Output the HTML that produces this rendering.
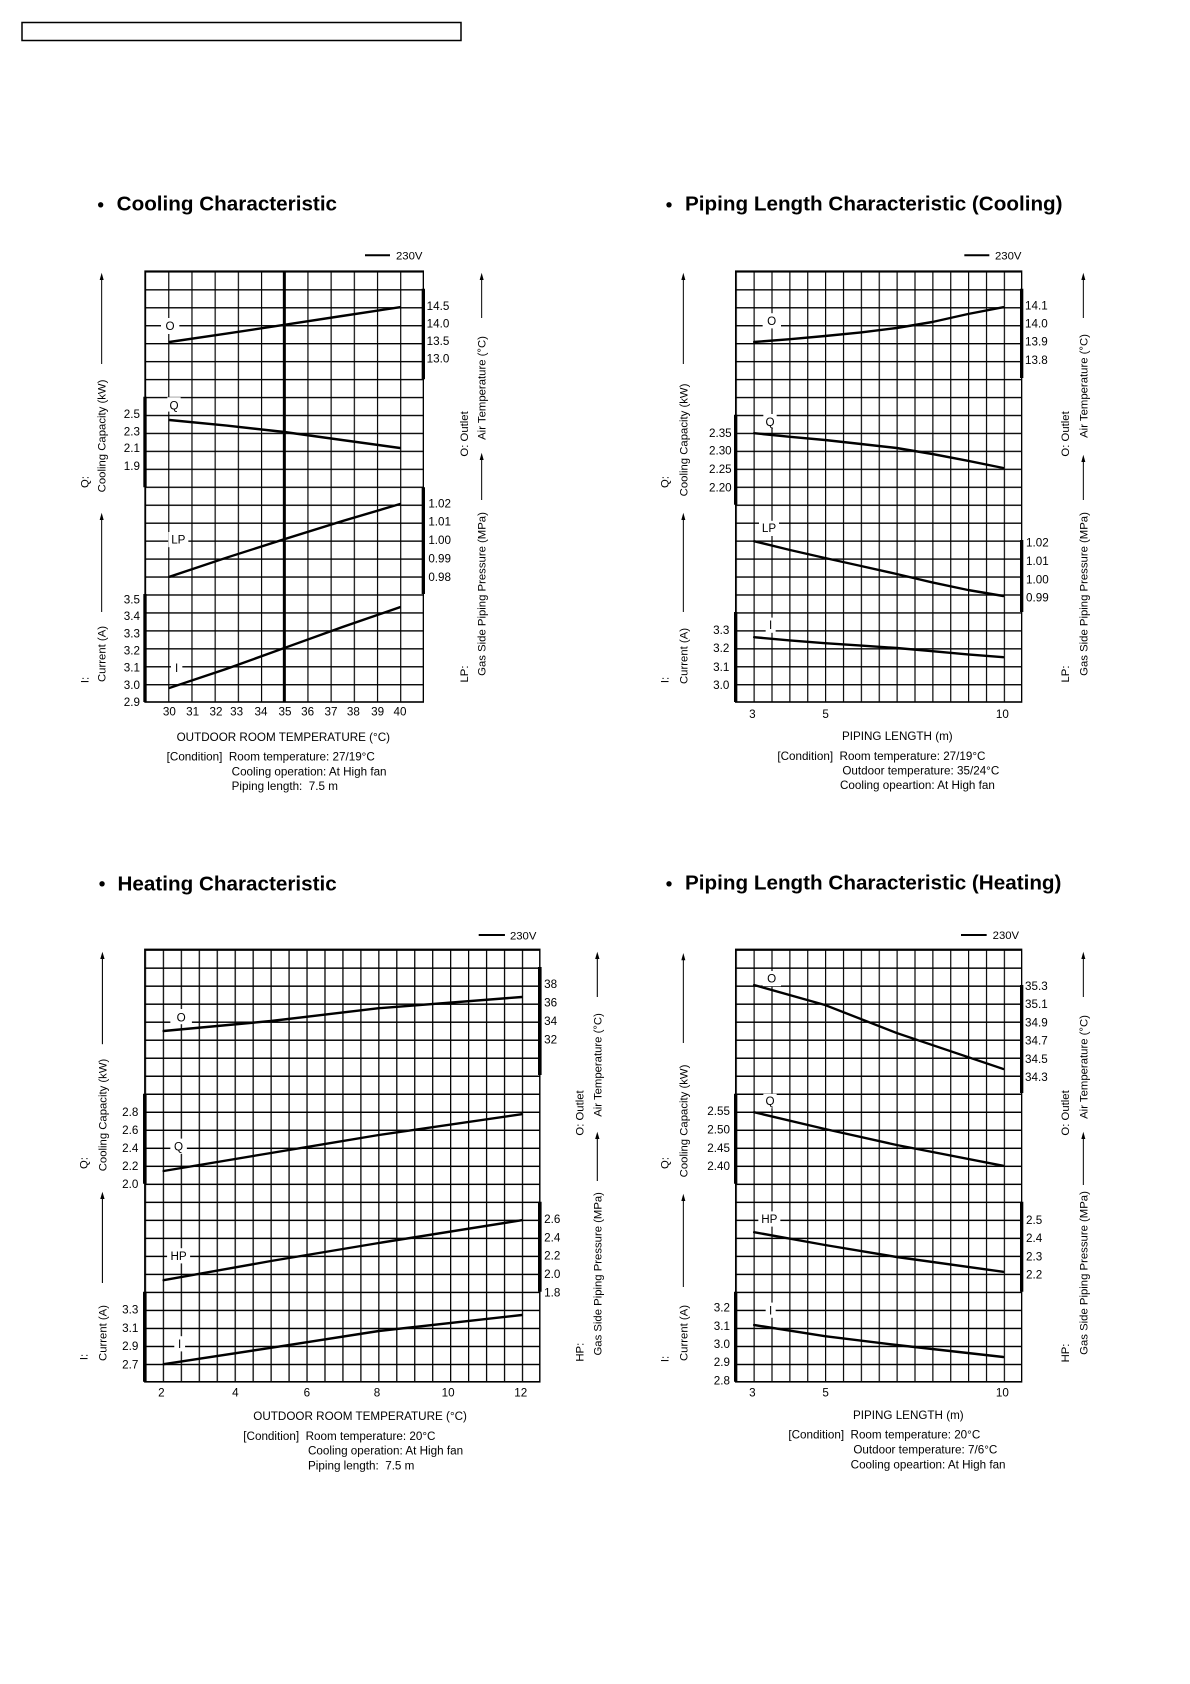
<!DOCTYPE html>
<html><head><meta charset="utf-8"><style>
html,body{margin:0;padding:0;background:#fff;}
svg{display:block;font-family:"Liberation Sans",sans-serif;}
.t{font-size:35px;fill:#000;}
.a{font-size:34px;fill:#000;}
.h{font-size:62px;font-weight:bold;fill:#000;}
.lb{font-size:35px;fill:#000;}
.c{fill:none;stroke:#000;stroke-width:6;stroke-linejoin:round;stroke-linecap:round;}
.b{stroke:#000;stroke-width:10;}
.ar{stroke:#000;stroke-width:3;}
.k1 text{transform-box:fill-box;transform-origin:center;transform:scaleY(0.8333);}
.k1 .rot text{transform:scaleX(0.8333);}
.k3 text{transform-box:fill-box;transform-origin:center;transform:scaleY(0.8985);}
.k3 .rot text{transform:scaleX(0.8985);}
.k3 .t,.k3 .lb{font-size:32.5px;}
.k3 .a{font-size:31.5px;}
.k3 .h{font-size:57.5px;}
</style></head><body>
<svg width="1190" height="1684" viewBox="0 0 1190 1684" xmlns="http://www.w3.org/2000/svg">
<defs>
<pattern id="p1" patternUnits="userSpaceOnUse" x="255" y="228" width="69.583" height="44.875"><path d="M0 0H69.583M0 0V44.875" stroke="#000" stroke-width="7" fill="none"/></pattern>
<pattern id="p2" patternUnits="userSpaceOnUse" x="287" y="228" width="53.625" height="44.875"><path d="M0 0H53.625M0 0V44.875" stroke="#000" stroke-width="7" fill="none"/></pattern>
<pattern id="p3" patternUnits="userSpaceOnUse" x="236" y="211" width="49.955" height="45.04"><path d="M0 0H49.955M0 0V45.04" stroke="#000" stroke-width="7" fill="none"/></pattern>
<pattern id="p4" patternUnits="userSpaceOnUse" x="287" y="211" width="53.625" height="45.04"><path d="M0 0H53.625M0 0V45.04" stroke="#000" stroke-width="7" fill="none"/></pattern>
</defs>
<rect x="22" y="22.5" width="439" height="18" fill="none" stroke="#000" stroke-width="1.5"/>

<!-- Chart 1 -->
<g class="k1" transform="translate(60,180) scale(0.33333,0.4)">
<ellipse cx="122" cy="62" rx="8" ry="6.7"/>
<text class="h" x="170" y="80">Cooling Characteristic</text>
<line x1="915" y1="188" x2="990" y2="188" stroke="#000" stroke-width="5"/>
<text class="a" x="1008" y="200">230V</text>
<rect x="255" y="228" width="835" height="1077" fill="url(#p1)"/>
<rect x="255" y="228" width="835" height="1077" fill="none" stroke="#000" stroke-width="4"/>
<line x1="673" y1="228" x2="673" y2="1305" stroke="#000" stroke-width="9"/>
<line class="b" x1="1090" y1="272" x2="1090" y2="498"/>
<line class="b" x1="1090" y1="768" x2="1090" y2="1035"/>
<line class="b" x1="255" y1="542" x2="255" y2="768"/>
<line class="b" x1="255" y1="1035" x2="255" y2="1305"/>
<polyline class="c" points="328,405 500,384 673,362 846,340 1020,318"/>
<polyline class="c" points="328,600 500,614 673,630 846,650 1020,670"/>
<polyline class="c" points="328,992 500,944 673,898 846,853 1020,810"/>
<polyline class="c" points="328,1270 500,1222 673,1170 846,1118 1020,1068"/>
<rect x="303" y="345" width="55" height="40" fill="#fff"/><text class="lb" x="330" y="377" text-anchor="middle">O</text>
<rect x="322" y="543" width="40" height="36" fill="#fff"/><text class="lb" x="342" y="575" text-anchor="middle">Q</text>
<rect x="325" y="880" width="60" height="38" fill="#fff"/><text class="lb" x="355" y="910" text-anchor="middle">LP</text>
<rect x="333" y="1200" width="34" height="38" fill="#fff"/><text class="lb" x="350" y="1232" text-anchor="middle">I</text>
<g class="t">
<text x="1100" y="327">14.5</text><text x="1100" y="370">14.0</text><text x="1100" y="414">13.5</text><text x="1100" y="458">13.0</text>
<text x="1105" y="820">1.02</text><text x="1105" y="866">1.01</text><text x="1105" y="912">1.00</text><text x="1105" y="958">0.99</text><text x="1105" y="1004">0.98</text>
</g>
<g class="t" text-anchor="end">
<text x="240" y="597">2.5</text><text x="240" y="640">2.3</text><text x="240" y="682">2.1</text><text x="240" y="727">1.9</text>
<text x="240" y="1060">3.5</text><text x="240" y="1102">3.4</text><text x="240" y="1145">3.3</text><text x="240" y="1188">3.2</text><text x="240" y="1230">3.1</text><text x="240" y="1274">3.0</text><text x="240" y="1317">2.9</text>
</g>
<g class="t" text-anchor="middle">
<text x="328" y="1340">30</text><text x="398" y="1340">31</text><text x="468" y="1340">32</text><text x="530" y="1340">33</text><text x="603" y="1340">34</text><text x="675" y="1340">35</text><text x="743" y="1340">36</text><text x="813" y="1340">37</text><text x="880" y="1340">38</text><text x="953" y="1340">39</text><text x="1020" y="1340">40</text>
<text x="670" y="1404">OUTDOOR  ROOM TEMPERATURE (°C)</text>
</g>
<g class="t"><text x="320" y="1453" xml:space="preserve">[Condition]  Room temperature: 27/19°C</text>
<text x="515" y="1490">Cooling operation: At High fan</text>
<text x="515" y="1527" xml:space="preserve">Piping length:  7.5 m</text></g>
<g class="a rot" text-anchor="middle">
<g transform="translate(86,755) rotate(-90)"><text>Q:</text></g>
<g transform="translate(137,640) rotate(-90)"><text>Cooling Capacity (kW)</text></g>
<g transform="translate(86,1250) rotate(-90)"><text>I:</text></g>
<g transform="translate(137,1185) rotate(-90)"><text>Current (A)</text></g>
<g transform="translate(1224,635) rotate(-90)"><text>O: Outlet</text></g>
<g transform="translate(1277,520) rotate(-90)"><text>Air Temperature (°C)</text></g>
<g transform="translate(1224,1235) rotate(-90)"><text>LP:</text></g>
<g transform="translate(1277,1035) rotate(-90)"><text>Gas Side Piping Pressure (MPa)</text></g>
</g>
<line class="ar" x1="125" y1="460" x2="125" y2="240"/><polygon points="125,232 119,250 131,250"/>
<line class="ar" x1="125" y1="1080" x2="125" y2="840"/><polygon points="125,832 119,850 131,850"/>
<line class="ar" x1="1265" y1="345" x2="1265" y2="240"/><polygon points="1265,232 1259,250 1271,250"/>
<line class="ar" x1="1265" y1="800" x2="1265" y2="690"/><polygon points="1265,682 1259,700 1271,700"/>
</g>

<!-- Chart 2 -->
<g class="k1" transform="translate(640,180) scale(0.33333,0.4)">
<ellipse cx="87" cy="62" rx="8" ry="6.7"/>
<text class="h" x="135" y="80">Piping Length Characteristic (Cooling)</text>
<line x1="973" y1="188" x2="1048" y2="188" stroke="#000" stroke-width="5"/>
<text class="a" x="1065" y="200">230V</text>
<rect x="287" y="228" width="858" height="1077" fill="url(#p2)"/>
<rect x="287" y="228" width="858" height="1077" fill="none" stroke="#000" stroke-width="4"/>
<line class="b" x1="1145" y1="272" x2="1145" y2="495"/>
<line class="b" x1="1145" y1="900" x2="1145" y2="1080"/>
<line class="b" x1="287" y1="587" x2="287" y2="812"/>
<line class="b" x1="287" y1="1080" x2="287" y2="1305"/>
<polyline class="c" points="342,405 450,398 555,390 663,381 770,370 877,355 984,335 1090,318"/>
<polyline class="c" points="342,633 450,642 555,650 663,660 770,670 877,685 984,702 1090,720"/>
<polyline class="c" points="342,903 450,925 555,945 663,965 770,985 877,1006 984,1025 1090,1040"/>
<polyline class="c" points="342,1143 450,1151 555,1158 663,1164 770,1170 877,1178 984,1186 1090,1193"/>
<rect x="368" y="333" width="55" height="38" fill="#fff"/><text class="lb" x="395" y="364" text-anchor="middle">O</text>
<rect x="370" y="585" width="40" height="36" fill="#fff"/><text class="lb" x="390" y="617" text-anchor="middle">Q</text>
<rect x="357" y="852" width="60" height="38" fill="#fff"/><text class="lb" x="387" y="882" text-anchor="middle">LP</text>
<rect x="377" y="1094" width="30" height="38" fill="#fff"/><text class="lb" x="392" y="1124" text-anchor="middle">I</text>
<g class="t">
<text x="1155" y="325">14.1</text><text x="1155" y="370">14.0</text><text x="1155" y="416">13.9</text><text x="1155" y="462">13.8</text>
<text x="1158" y="918">1.02</text><text x="1158" y="964">1.01</text><text x="1158" y="1010">1.00</text><text x="1158" y="1056">0.99</text>
</g>
<g class="t" text-anchor="end">
<text x="275" y="644">2.35</text><text x="275" y="688">2.30</text><text x="275" y="734">2.25</text><text x="275" y="780">2.20</text>
<text x="268" y="1137">3.3</text><text x="268" y="1182">3.2</text><text x="268" y="1229">3.1</text><text x="268" y="1274">3.0</text>
</g>
<g class="t" text-anchor="middle">
<text x="337" y="1347">3</text><text x="557" y="1347">5</text><text x="1087" y="1347">10</text>
<text x="772" y="1402">PIPING LENGTH (m)</text>
</g>
<g class="t"><text x="412" y="1452" xml:space="preserve">[Condition]  Room temperature: 27/19°C</text>
<text x="607" y="1488">Outdoor temperature: 35/24°C</text>
<text x="600" y="1524">Cooling opeartion: At High fan</text></g>
<g class="a rot" text-anchor="middle">
<g transform="translate(86,755) rotate(-90)"><text>Q:</text></g>
<g transform="translate(142,650) rotate(-90)"><text>Cooling Capacity (kW)</text></g>
<g transform="translate(86,1250) rotate(-90)"><text>I:</text></g>
<g transform="translate(142,1190) rotate(-90)"><text>Current (A)</text></g>
<g transform="translate(1287,635) rotate(-90)"><text>O: Outlet</text></g>
<g transform="translate(1342,515) rotate(-90)"><text>Air Temperature (°C)</text></g>
<g transform="translate(1287,1235) rotate(-90)"><text>LP:</text></g>
<g transform="translate(1342,1035) rotate(-90)"><text>Gas Side Piping Pressure (MPa)</text></g>
</g>
<line class="ar" x1="130" y1="460" x2="130" y2="240"/><polygon points="130,232 124,250 136,250"/>
<line class="ar" x1="130" y1="1080" x2="130" y2="840"/><polygon points="130,832 124,850 136,850"/>
<line class="ar" x1="1330" y1="345" x2="1330" y2="240"/><polygon points="1330,232 1324,250 1336,250"/>
<line class="ar" x1="1330" y1="800" x2="1330" y2="695"/><polygon points="1330,687 1324,705 1336,705"/>
</g>

<!-- Chart 3 -->
<g class="k3" transform="translate(60,865) scale(0.3594,0.4)">
<ellipse cx="117" cy="47" rx="7.5" ry="6.8"/>
<text class="h" x="160" y="65">Heating Characteristic</text>
<line x1="1165" y1="175" x2="1238" y2="175" stroke="#000" stroke-width="5"/>
<text class="a" x="1252" y="187">230V</text>
<rect x="236" y="211" width="1099" height="1081" fill="url(#p3)"/>
<rect x="236" y="211" width="1099" height="1081" fill="none" stroke="#000" stroke-width="4"/>
<line class="b" x1="1335" y1="255" x2="1335" y2="525"/>
<line class="b" x1="1335" y1="842" x2="1335" y2="1067"/>
<line class="b" x1="236" y1="572" x2="236" y2="797"/>
<line class="b" x1="236" y1="1067" x2="236" y2="1292"/>
<polyline class="c" points="288,415 587,390 887,358 1285,330"/>
<polyline class="c" points="288,765 587,720 887,675 1285,623"/>
<polyline class="c" points="288,1038 587,990 887,945 1285,888"/>
<polyline class="c" points="288,1248 587,1207 887,1165 1285,1125"/>
<rect x="307" y="360" width="60" height="38" fill="#fff"/><text class="lb" x="337" y="392" text-anchor="middle">O</text>
<rect x="307" y="684" width="46" height="38" fill="#fff"/><text class="lb" x="330" y="715" text-anchor="middle">Q</text>
<rect x="298" y="958" width="64" height="38" fill="#fff"/><text class="lb" x="330" y="989" text-anchor="middle">HP</text>
<rect x="318" y="1178" width="30" height="38" fill="#fff"/><text class="lb" x="333" y="1209" text-anchor="middle">I</text>
<g class="t">
<text x="1347" y="309">38</text><text x="1347" y="355">36</text><text x="1347" y="401">34</text><text x="1347" y="447">32</text>
<text x="1347" y="896">2.6</text><text x="1347" y="942">2.4</text><text x="1347" y="987">2.2</text><text x="1347" y="1033">2.0</text><text x="1347" y="1080">1.8</text>
</g>
<g class="t" text-anchor="end">
<text x="218" y="629">2.8</text><text x="218" y="673">2.6</text><text x="218" y="719">2.4</text><text x="218" y="764">2.2</text><text x="218" y="809">2.0</text>
<text x="218" y="1122">3.3</text><text x="218" y="1168">3.1</text><text x="218" y="1213">2.9</text><text x="218" y="1260">2.7</text>
</g>
<g class="t" text-anchor="middle">
<text x="282" y="1330">2</text><text x="488" y="1330">4</text><text x="687" y="1330">6</text><text x="882" y="1330">8</text><text x="1080" y="1330">10</text><text x="1282" y="1330">12</text>
<text x="835" y="1389">OUTDOOR  ROOM TEMPERATURE (°C)</text>
</g>
<g class="t"><text x="510" y="1438" xml:space="preserve">[Condition]  Room temperature: 20°C</text>
<text x="690" y="1475">Cooling operation: At High fan</text>
<text x="690" y="1512" xml:space="preserve">Piping length:  7.5 m</text></g>
<g class="a rot" text-anchor="middle">
<g transform="translate(76,745) rotate(-90)"><text>Q:</text></g>
<g transform="translate(130,625) rotate(-90)"><text>Cooling Capacity (kW)</text></g>
<g transform="translate(76,1230) rotate(-90)"><text>I:</text></g>
<g transform="translate(130,1170) rotate(-90)"><text>Current (A)</text></g>
<g transform="translate(1457,620) rotate(-90)"><text>O: Outlet</text></g>
<g transform="translate(1507,500) rotate(-90)"><text>Air Temperature (°C)</text></g>
<g transform="translate(1457,1218) rotate(-90)"><text>HP:</text></g>
<g transform="translate(1507,1022) rotate(-90)"><text>Gas Side Piping Pressure (MPa)</text></g>
</g>
<line class="ar" x1="118" y1="448" x2="118" y2="225"/><polygon points="118,217 112,235 124,235"/>
<line class="ar" x1="118" y1="1045" x2="118" y2="825"/><polygon points="118,817 112,835 124,835"/>
<line class="ar" x1="1495" y1="330" x2="1495" y2="225"/><polygon points="1495,217 1489,235 1501,235"/>
<line class="ar" x1="1495" y1="790" x2="1495" y2="675"/><polygon points="1495,667 1489,685 1501,685"/>
</g>

<!-- Chart 4 -->
<g class="k1" transform="translate(640,865) scale(0.33333,0.4)">
<ellipse cx="87" cy="47" rx="8" ry="6.7"/>
<text class="h" x="135" y="65">Piping Length Characteristic (Heating)</text>
<line x1="963" y1="175" x2="1040" y2="175" stroke="#000" stroke-width="5"/>
<text class="a" x="1058" y="187">230V</text>
<rect x="287" y="211" width="858" height="1081" fill="url(#p4)"/>
<rect x="287" y="211" width="858" height="1081" fill="none" stroke="#000" stroke-width="4"/>
<line class="b" x1="1145" y1="300" x2="1145" y2="570"/>
<line class="b" x1="1145" y1="842" x2="1145" y2="1067"/>
<line class="b" x1="287" y1="572" x2="287" y2="797"/>
<line class="b" x1="287" y1="1067" x2="287" y2="1292"/>
<polyline class="c" points="342,300 555,350 770,420 1090,510"/>
<polyline class="c" points="342,618 555,660 770,700 1090,752"/>
<polyline class="c" points="342,918 555,950 770,980 1090,1017"/>
<polyline class="c" points="342,1150 555,1178 770,1200 1090,1230"/>
<rect x="368" y="265" width="55" height="38" fill="#fff"/><text class="lb" x="395" y="296" text-anchor="middle">O</text>
<rect x="370" y="572" width="40" height="36" fill="#fff"/><text class="lb" x="390" y="602" text-anchor="middle">Q</text>
<rect x="355" y="866" width="66" height="38" fill="#fff"/><text class="lb" x="388" y="897" text-anchor="middle">HP</text>
<rect x="377" y="1094" width="30" height="38" fill="#fff"/><text class="lb" x="392" y="1125" text-anchor="middle">I</text>
<g class="t">
<text x="1155" y="314">35.3</text><text x="1155" y="359">35.1</text><text x="1155" y="405">34.9</text><text x="1155" y="450">34.7</text><text x="1155" y="497">34.5</text><text x="1155" y="542">34.3</text>
<text x="1158" y="899">2.5</text><text x="1158" y="944">2.4</text><text x="1158" y="990">2.3</text><text x="1158" y="1036">2.2</text>
</g>
<g class="t" text-anchor="end">
<text x="270" y="627">2.55</text><text x="270" y="673">2.50</text><text x="270" y="719">2.45</text><text x="270" y="764">2.40</text>
<text x="270" y="1118">3.2</text><text x="270" y="1164">3.1</text><text x="270" y="1209">3.0</text><text x="270" y="1254">2.9</text><text x="270" y="1300">2.8</text>
</g>
<g class="t" text-anchor="middle">
<text x="337" y="1330">3</text><text x="557" y="1330">5</text><text x="1087" y="1330">10</text>
<text x="805" y="1387">PIPING LENGTH (m)</text>
</g>
<g class="t"><text x="445" y="1436" xml:space="preserve">[Condition]  Room temperature: 20°C</text>
<text x="640" y="1473">Outdoor temperature: 7/6°C</text>
<text x="632" y="1510">Cooling opeartion: At High fan</text></g>
<g class="a rot" text-anchor="middle">
<g transform="translate(86,745) rotate(-90)"><text>Q:</text></g>
<g transform="translate(142,640) rotate(-90)"><text>Cooling Capacity (kW)</text></g>
<g transform="translate(86,1235) rotate(-90)"><text>I:</text></g>
<g transform="translate(142,1170) rotate(-90)"><text>Current (A)</text></g>
<g transform="translate(1287,620) rotate(-90)"><text>O: Outlet</text></g>
<g transform="translate(1342,505) rotate(-90)"><text>Air Temperature (°C)</text></g>
<g transform="translate(1287,1220) rotate(-90)"><text>HP:</text></g>
<g transform="translate(1342,1020) rotate(-90)"><text>Gas Side Piping Pressure (MPa)</text></g>
</g>
<line class="ar" x1="130" y1="445" x2="130" y2="228"/><polygon points="130,220 124,238 136,238"/>
<line class="ar" x1="130" y1="1055" x2="130" y2="830"/><polygon points="130,822 124,840 136,840"/>
<line class="ar" x1="1330" y1="330" x2="1330" y2="225"/><polygon points="1330,217 1324,235 1336,235"/>
<line class="ar" x1="1330" y1="800" x2="1330" y2="675"/><polygon points="1330,667 1324,685 1336,685"/>
</g>
</svg>
</body></html>
